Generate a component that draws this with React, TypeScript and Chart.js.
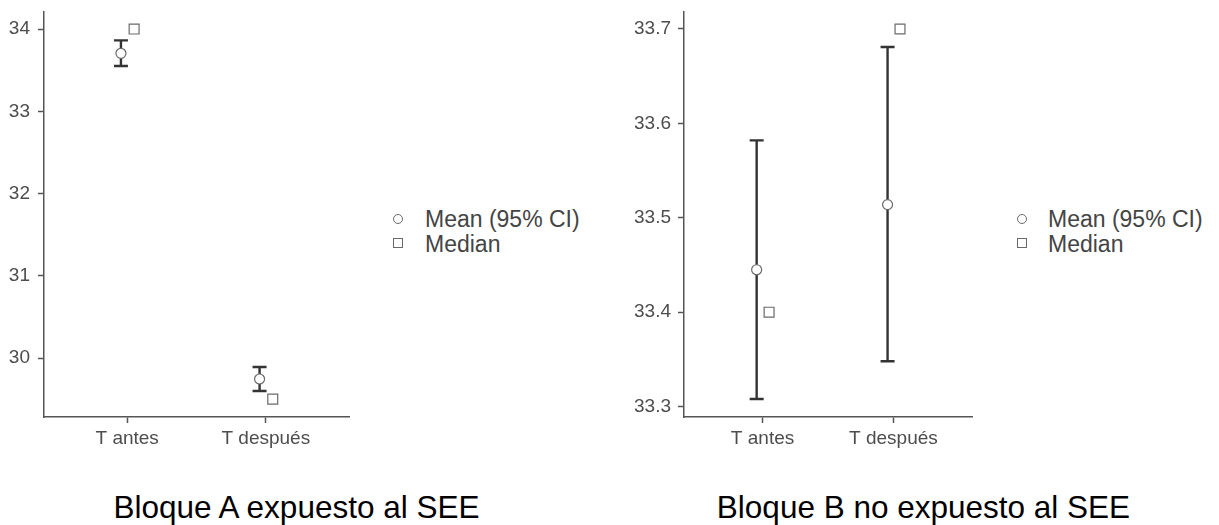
import React, { useEffect, useRef } from "react";
import { Chart, registerables } from "chart.js";

Chart.register(...registerables);

// ---------- data ----------
const categories = ["T antes", "T después"];

const meanA = [33.705, 29.745];
const ciLowA = [33.55, 29.6];
const ciHighA = [33.862, 29.89];
const medianA = [34.0, 29.5];
const yTicksA = [30, 31, 32, 33, 34];

const meanB = [33.445, 33.514];
const ciLowB = [33.308, 33.348];
const ciHighB = [33.582, 33.681];
const medianB = [33.4, 33.7];
const yTicksB = [33.3, 33.4, 33.5, 33.6, 33.7];

const titleA = "Bloque A expuesto al SEE";
const titleB = "Bloque B no expuesto al SEE";
const legendMean = "Mean (95% CI)";
const legendMedian = "Median";

// ---------- style ----------
const FONT = "'Liberation Sans', Arial, Helvetica, sans-serif";
const AXIS_COLOR = "#555555";
const TEXT_COLOR = "#4d4d4d";
const BAR_COLOR = "#333333";
const MARK_BORDER = "#6a6a6a";
const MEAN_OFFSET = -0.045;
const MEDIAN_OFFSET = 0.05;

const errorBarPlugin = {
  id: "errorBars",
  beforeDatasetsDraw(chart: any, _args: any, opts: any) {
    const { ctx } = chart;
    const x = chart.scales.x;
    const y = chart.scales.y;
    const low: number[] = opts.low || [];
    const high: number[] = opts.high || [];
    ctx.save();
    ctx.strokeStyle = opts.color;
    ctx.lineWidth = opts.width;
    ctx.lineCap = "butt";
    low.forEach((lo, i) => {
      const px = x.getPixelForValue(i + 1 + opts.offset);
      const y1 = y.getPixelForValue(lo);
      const y2 = y.getPixelForValue(high[i]);
      ctx.beginPath();
      ctx.moveTo(px, y1);
      ctx.lineTo(px, y2);
      ctx.moveTo(px - opts.capHalf, y1);
      ctx.lineTo(px + opts.capHalf, y1);
      ctx.moveTo(px - opts.capHalf, y2);
      ctx.lineTo(px + opts.capHalf, y2);
      ctx.stroke();
    });
    ctx.restore();
  },
};

type PanelProps = {
  left: number;
  width: number;
  height: number;
  yAxisWidth: number;
  padRight: number;
  yMin: number;
  yMax: number;
  yTicks: number[];
  decimals: number;
  yPad: number;
  mean: number[];
  low: number[];
  high: number[];
  median: number[];
};

function zeroPad(s: any) {
  s.paddingTop = 0;
  s.paddingBottom = 0;
  s.paddingLeft = 0;
  s.paddingRight = 0;
}

function Panel(p: PanelProps) {
  const ref = useRef<HTMLCanvasElement | null>(null);
  useEffect(() => {
    if (!ref.current) return;
    const xBottom = 417;
    const chart = new Chart(ref.current, {
      type: "scatter",
      data: {
        datasets: [
          {
            label: legendMean,
            data: p.mean.map((v, i) => ({ x: i + 1 + MEAN_OFFSET, y: v })),
            pointStyle: "circle",
            pointRadius: 5,
            pointBorderWidth: 1.2,
            pointBorderColor: MARK_BORDER,
            pointBackgroundColor: "#ffffff",
            showLine: false,
            clip: false as any,
          },
          {
            label: legendMedian,
            data: p.median.map((v, i) => ({ x: i + 1 + MEDIAN_OFFSET, y: v })),
            pointStyle: "rect",
            pointRadius: 7,
            pointBorderWidth: 1.2,
            pointBorderColor: MARK_BORDER,
            pointBackgroundColor: "#ffffff",
            showLine: false,
            clip: false as any,
          },
        ],
      },
      options: {
        animation: false,
        responsive: false,
        devicePixelRatio: 1,
        layout: { padding: { top: 12, right: p.padRight, left: 0, bottom: 0 } },
        plugins: {
          legend: { display: false },
          tooltip: { enabled: false },
          errorBars: {
            low: p.low,
            high: p.high,
            offset: MEAN_OFFSET,
            capHalf: 7,
            color: BAR_COLOR,
            width: 2.4,
          },
        } as any,
        scales: {
          x: {
            type: "linear",
            min: 0.4,
            max: 2.6,
            afterBuildTicks: (s: any) => {
              s.ticks = categories.map((_, i) => ({ value: i + 1 }));
            },
            afterFit: (s: any) => {
              s.height = p.height - xBottom;
              zeroPad(s);
            },
            ticks: {
              callback: (v: any) => categories[Math.round(Number(v)) - 1] ?? "",
              font: { family: FONT, size: 19 },
              color: TEXT_COLOR,
              padding: 4,
              maxRotation: 0,
              autoSkip: false,
            },
            grid: {
              display: true,
              drawOnChartArea: false,
              drawTicks: true,
              tickLength: 6,
              tickColor: AXIS_COLOR,
              tickWidth: 1.5,
            },
            border: { display: true, color: AXIS_COLOR, width: 1.5 },
          },
          y: {
            type: "linear",
            min: p.yMin,
            max: p.yMax,
            afterBuildTicks: (s: any) => {
              s.ticks = p.yTicks.map((v) => ({ value: v }));
            },
            afterFit: (s: any) => {
              s.width = p.yAxisWidth;
              zeroPad(s);
            },
            ticks: {
              callback: (v: any) => Number(v).toFixed(p.decimals),
              font: { family: FONT, size: 19 },
              color: TEXT_COLOR,
              padding: p.yPad,
              autoSkip: false,
            },
            grid: {
              display: true,
              drawOnChartArea: false,
              drawTicks: true,
              tickLength: 6,
              tickColor: AXIS_COLOR,
              tickWidth: 1.5,
            },
            border: { display: true, color: AXIS_COLOR, width: 1.5 },
          },
        },
      },
      plugins: [errorBarPlugin as any],
    });
    return () => chart.destroy();
  }, []);
  return (
    <canvas
      ref={ref}
      width={p.width}
      height={p.height}
      style={{ position: "absolute", left: p.left, top: 0, width: p.width, height: p.height }}
    />
  );
}

function Legend({ symX, textX }: { symX: number; textX: number }) {
  const textStyle: React.CSSProperties = {
    position: "absolute",
    left: textX,
    fontFamily: FONT,
    fontSize: 23,
    lineHeight: "23px",
    color: "#444444",
    whiteSpace: "nowrap",
  };
  return (
    <>
      <div
        style={{
          position: "absolute",
          left: symX - 5,
          top: 219 - 5,
          width: 8,
          height: 8,
          border: `1.2px solid ${MARK_BORDER}`,
          borderRadius: "50%",
          background: "#fff",
        }}
      />
      <div
        style={{
          position: "absolute",
          left: symX - 5,
          top: 243 - 5,
          width: 8,
          height: 8,
          border: `1.2px solid ${MARK_BORDER}`,
          background: "#fff",
        }}
      />
      <div style={{ ...textStyle, top: 227 - 19.5 }}>{legendMean}</div>
      <div style={{ ...textStyle, top: 252 - 19.5 }}>{legendMedian}</div>
    </>
  );
}

function Title({ cx, text }: { cx: number; text: string }) {
  return (
    <div
      style={{
        position: "absolute",
        left: cx - 300,
        width: 600,
        top: 519 - 26.7,
        textAlign: "center",
        fontFamily: FONT,
        fontSize: 31.5,
        lineHeight: "31.5px",
        color: "#000",
        whiteSpace: "nowrap",
      }}
    >
      {text}
    </div>
  );
}

export default function App() {
  return (
    <div
      style={{
        position: "absolute",
        left: 0,
        top: 0,
        width: 1219,
        height: 525,
        background: "#ffffff",
        overflow: "hidden",
      }}
    >
      <Panel
        left={0}
        width={360}
        height={460}
        yAxisWidth={44}
        padRight={11}
        yMin={29.283}
        yMax={34.207}
        yTicks={yTicksA}
        decimals={0}
        yPad={8}
        mean={meanA}
        low={ciLowA}
        high={ciHighA}
        median={medianA}
      />
      <Panel
        left={610}
        width={372}
        height={460}
        yAxisWidth={74}
        padRight={10}
        yMin={33.289}
        yMax={33.718}
        yTicks={yTicksB}
        decimals={1}
        yPad={7}
        mean={meanB}
        low={ciLowB}
        high={ciHighB}
        median={medianB}
      />
      <Legend symX={398} textX={425} />
      <Legend symX={1022} textX={1048} />
      <Title cx={296.5} text={titleA} />
      <Title cx={923.5} text={titleB} />
    </div>
  );
}
